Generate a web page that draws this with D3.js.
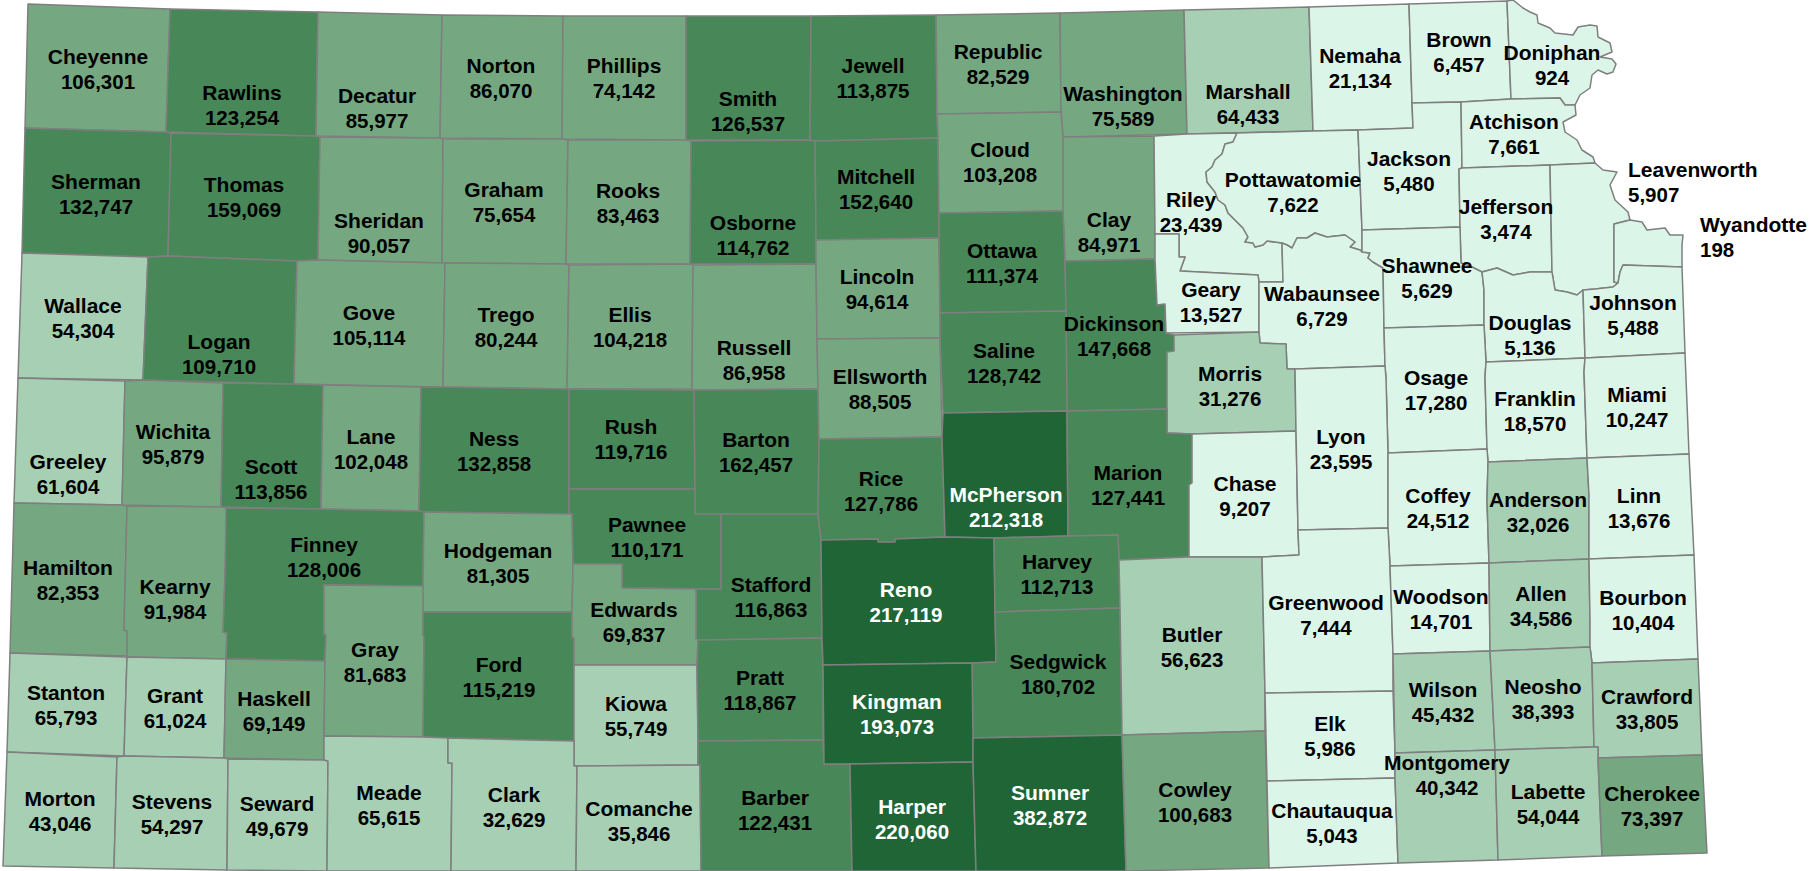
<!DOCTYPE html>
<html>
<head>
<meta charset="utf-8">
<script src="https://cdn.jsdelivr.net/npm/d3@7"></script>
<style>
  body { margin: 0; background: #fff; }
  svg { display: block; }
  .county { stroke: #7f7f7f; stroke-width: 1.5; stroke-linejoin: round; }
  .label { font-family: "Liberation Sans", Arial, sans-serif; font-weight: bold; }
  .label .name { font-size: 21px; }
  .label .value { font-size: 20.5px; }
</style>
</head>
<body>
<svg id="vis" width="1810" height="871"></svg>
<script>
const countyNames = [
  "Cheyenne","Rawlins","Decatur","Norton","Phillips","Smith","Jewell","Republic","Washington","Marshall","Nemaha","Brown","Doniphan",
  "Sherman","Thomas","Sheridan","Graham","Rooks","Osborne","Mitchell","Cloud","Clay","Riley","Pottawatomie","Jackson","Atchison","Jefferson","Leavenworth","Wyandotte",
  "Wallace","Logan","Gove","Trego","Ellis","Russell","Lincoln","Ottawa","Dickinson","Geary","Wabaunsee","Shawnee","Douglas","Johnson",
  "Greeley","Wichita","Scott","Lane","Ness","Rush","Barton","Ellsworth","Saline","Morris","Osage","Franklin","Miami",
  "Hamilton","Kearny","Finney","Hodgeman","Pawnee","Stafford","Rice","McPherson","Marion","Chase","Lyon","Coffey","Anderson","Linn",
  "Stanton","Grant","Haskell","Gray","Ford","Edwards","Kiowa","Pratt","Reno","Harvey","Sedgwick","Butler","Greenwood","Woodson","Allen","Bourbon",
  "Morton","Stevens","Seward","Meade","Clark","Comanche","Barber","Kingman","Harper","Sumner","Cowley","Elk","Chautauqua","Wilson","Neosho","Crawford","Montgomery","Labette","Cherokee"
];

const countyValues = [
  106301,123254,85977,86070,74142,126537,113875,82529,75589,64433,21134,6457,924,
  132747,159069,90057,75654,83463,114762,152640,103208,84971,23439,7622,5480,7661,3474,5907,198,
  54304,109710,105114,80244,104218,86958,94614,111374,147668,13527,6729,5629,5136,5488,
  61604,95879,113856,102048,132858,119716,162457,88505,128742,31276,17280,18570,10247,
  82353,91984,128006,81305,110171,116863,127786,212318,127441,9207,23595,24512,32026,13676,
  65793,61024,69149,81683,115219,69837,55749,118867,217119,112713,180702,56623,7444,14701,34586,10404,
  43046,54297,49679,65615,32629,35846,122431,193073,220060,382872,100683,5986,5043,45432,38393,33805,40342,54044,73397
];

const classBreaks = [30000, 68000, 108000, 190000];
const classColors = ["#dcf5e9", "#a7cfb4", "#75a880", "#488858", "#206535"];

// county outlines, in map units
const outlines = {
  Cheyenne: [[28,4],[170,9],[166,132],[25,128]],
  Rawlins: [[170,9],[318,12],[316,136],[166,132]],
  Decatur: [[318,12],[442,15],[440,138],[316,136]],
  Norton: [[442,15],[563,16],[562,139],[440,138]],
  Phillips: [[563,16],[686,16],[686,140],[562,139]],
  Smith: [[686,16],[811,16],[810,140],[686,140]],
  Jewell: [[811,16],[936,15],[937,114],[938,138],[815,141],[810,140]],
  Republic: [[936,15],[1060,13],[1061,112],[937,114]],
  Washington: [[1060,13],[1184,10],[1187,134],[1063,137],[1061,112]],
  Marshall: [[1184,10],[1309,7],[1313,131],[1187,134]],
  Nemaha: [[1309,7],[1409,4],[1412,103],[1413,128],[1358,130],[1313,131]],
  Brown: [[1409,4],[1507,1],[1511,99],[1461,102],[1412,103]],
  Doniphan: [[1507,1],[1513,0],[1523,8],[1530,12],[1537,15],[1538,23],[1550,28],[1555,33],[1573,35],[1578,27],[1590,25],[1597,26],[1598,37],[1610,43],[1612,52],[1600,57],[1612,59],[1616,64],[1613,72],[1607,74],[1598,70],[1592,75],[1590,88],[1580,95],[1575,105],[1565,105],[1560,98],[1511,99]],

  Sherman: [[25,128],[166,132],[171,133],[168,256],[148,257],[22,253]],
  Thomas: [[171,133],[316,136],[320,137],[318,260],[297,261],[168,256]],
  Sheridan: [[320,137],[440,138],[443,139],[442,263],[318,260]],
  Graham: [[443,139],[562,139],[568,140],[566,264],[442,263]],
  Rooks: [[568,140],[686,140],[691,141],[690,264],[566,264]],
  Osborne: [[691,141],[810,140],[815,141],[816,240],[816,264],[690,264]],
  Mitchell: [[815,141],[938,138],[939,213],[939,238],[816,240]],
  Cloud: [[937,114],[1061,112],[1063,137],[1063,211],[939,213],[938,138]],
  Clay: [[1063,137],[1154,136],[1155,234],[1155,259],[1065,261],[1063,211]],
  Riley: [[1154,136],[1187,134],[1237,133],[1233,142],[1225,144],[1222,154],[1215,160],[1212,167],[1206,172],[1207,182],[1215,192],[1218,200],[1225,205],[1228,213],[1237,222],[1243,228],[1248,237],[1245,242],[1253,243],[1255,247],[1263,245],[1267,241],[1275,242],[1282,243],[1283,282],[1259,282],[1258,275],[1180,271],[1185,257],[1179,257],[1179,234],[1155,234]],
  Pottawatomie: [[1237,133],[1313,131],[1358,130],[1362,230],[1362,252],[1360,250],[1350,247],[1355,242],[1345,235],[1327,237],[1315,233],[1307,238],[1297,238],[1292,248],[1287,245],[1282,243],[1275,242],[1267,241],[1263,245],[1255,247],[1253,243],[1245,242],[1248,237],[1243,228],[1237,222],[1228,213],[1225,205],[1218,200],[1215,192],[1207,182],[1206,172],[1212,167],[1215,160],[1222,154],[1225,144],[1233,142]],
  Jackson: [[1358,130],[1413,128],[1412,103],[1461,102],[1462,168],[1459,169],[1460,227],[1362,230]],
  Atchison: [[1461,102],[1511,99],[1560,98],[1565,105],[1575,105],[1576,115],[1563,122],[1565,132],[1577,140],[1582,150],[1593,157],[1595,163],[1550,165],[1462,168]],
  Jefferson: [[1459,169],[1462,168],[1550,165],[1552,272],[1530,272],[1513,275],[1497,268],[1482,272],[1472,267],[1461,263],[1460,227]],
  Leavenworth: [[1550,165],[1595,163],[1603,170],[1617,172],[1610,185],[1615,200],[1628,212],[1630,220],[1614,224],[1614,282],[1618,283],[1613,287],[1595,289],[1583,290],[1577,295],[1567,292],[1555,290],[1552,272]],
  Wyandotte: [[1614,224],[1630,220],[1642,222],[1647,230],[1665,228],[1670,235],[1683,235],[1682,245],[1682,267],[1623,265],[1620,272],[1618,283],[1614,282]],

  Wallace: [[22,253],[148,257],[143,380],[18,378]],
  Logan: [[148,257],[168,256],[297,261],[294,384],[143,380]],
  Gove: [[297,261],[318,260],[445,263],[443,387],[294,384]],
  Trego: [[445,263],[566,264],[569,265],[567,389],[443,387]],
  Ellis: [[569,265],[690,264],[693,265],[692,389],[567,389]],
  Russell: [[693,265],[816,264],[817,339],[818,389],[694,390],[692,389]],
  Lincoln: [[816,240],[939,238],[940,313],[940,338],[817,339],[816,264]],
  Ottawa: [[939,213],[1063,211],[1065,261],[1066,311],[940,313],[939,238]],
  Dickinson: [[1065,261],[1155,259],[1157,305],[1165,304],[1166,333],[1174,335],[1174,351],[1167,352],[1167,409],[1067,411],[1066,311]],
  Geary: [[1155,234],[1179,234],[1179,257],[1185,257],[1180,271],[1258,275],[1259,282],[1259,332],[1166,333],[1165,304],[1157,305],[1155,259]],
  Wabaunsee: [[1282,243],[1287,245],[1292,248],[1297,238],[1307,238],[1315,233],[1327,237],[1345,235],[1355,242],[1350,247],[1360,250],[1362,252],[1370,253],[1368,258],[1373,262],[1383,268],[1384,328],[1385,366],[1295,369],[1287,369],[1286,344],[1260,343],[1259,332],[1259,282],[1283,282]],
  Shawnee: [[1362,230],[1460,227],[1461,263],[1472,267],[1482,272],[1484,290],[1484,325],[1384,328],[1383,268],[1373,262],[1368,258],[1370,253],[1362,252]],
  Douglas: [[1482,272],[1497,268],[1513,275],[1530,272],[1552,272],[1555,290],[1567,292],[1577,295],[1583,290],[1585,358],[1486,362],[1484,325],[1484,290]],
  Johnson: [[1583,290],[1595,289],[1613,287],[1618,283],[1620,272],[1623,265],[1682,267],[1685,353],[1585,358]],

  Greeley: [[18,378],[125,381],[122,505],[14,503]],
  Wichita: [[125,381],[143,380],[223,383],[221,507],[122,505]],
  Scott: [[223,383],[294,384],[323,385],[321,509],[221,507]],
  Lane: [[323,385],[421,387],[419,511],[321,509]],
  Ness: [[421,387],[443,387],[567,389],[569,389],[569,489],[569,513],[572,514],[424,512],[419,511]],
  Rush: [[569,389],[694,390],[695,489],[569,489]],
  Barton: [[694,390],[818,389],[819,439],[818,514],[721,514],[695,514],[695,489]],
  Ellsworth: [[817,339],[940,338],[942,437],[819,439],[818,389]],
  Saline: [[940,313],[1066,311],[1067,411],[943,413],[940,338]],
  Morris: [[1174,335],[1259,332],[1260,343],[1286,344],[1287,369],[1295,369],[1296,431],[1192,434],[1167,433],[1167,352],[1174,351]],
  Osage: [[1384,328],[1484,325],[1486,362],[1485,377],[1487,449],[1388,453],[1386,378],[1385,366]],
  Franklin: [[1486,362],[1585,358],[1584,372],[1587,458],[1488,462],[1487,449],[1485,377]],
  Miami: [[1585,358],[1685,353],[1689,454],[1587,458],[1584,372]],

  Hamilton: [[14,503],[122,505],[127,506],[124,630],[127,631],[127,656],[10,653]],
  Kearny: [[127,506],[221,507],[227,508],[225,575],[223,632],[227,633],[226,659],[127,657],[127,631],[124,630]],
  Finney: [[226,508],[321,509],[419,511],[424,512],[423,586],[324,585],[324,634],[326,635],[325,661],[226,659],[227,633],[223,632],[225,575]],
  Hodgeman: [[424,512],[572,514],[573,564],[572,612],[423,612],[423,587]],
  Pawnee: [[569,489],[695,489],[695,514],[721,514],[721,589],[622,588],[622,564],[573,564],[572,514],[569,513]],
  Stafford: [[721,514],[818,514],[821,540],[822,638],[698,640],[696,639],[696,589],[721,589]],
  Rice: [[819,439],[942,437],[943,470],[945,537],[895,539],[895,542],[878,542],[878,539],[821,540],[818,514]],
  McPherson: [[943,413],[1067,411],[1068,536],[994,538],[945,537],[942,437]],
  Marion: [[1067,411],[1167,409],[1167,433],[1192,434],[1192,483],[1189,485],[1189,557],[1119,560],[1118,535],[1068,536]],
  Chase: [[1192,434],[1296,431],[1298,530],[1299,555],[1262,557],[1189,557],[1189,485],[1192,483]],
  Lyon: [[1295,369],[1385,366],[1386,378],[1388,453],[1388,503],[1388,528],[1298,530],[1296,431]],
  Coffey: [[1388,453],[1487,449],[1488,462],[1487,500],[1489,563],[1390,566],[1388,528],[1388,503]],
  Anderson: [[1488,462],[1587,458],[1589,495],[1589,559],[1489,563],[1487,500]],
  Linn: [[1587,458],[1689,454],[1694,555],[1589,559],[1589,495]],

  Stanton: [[10,653],[127,657],[124,756],[7,752]],
  Grant: [[127,657],[226,659],[224,758],[124,756]],
  Haskell: [[226,659],[325,661],[324,736],[324,760],[224,758]],
  Gray: [[324,585],[423,586],[423,612],[423,635],[424,637],[423,737],[324,736],[325,661],[326,635],[324,634]],
  Ford: [[423,612],[572,612],[572,637],[574,638],[574,741],[448,738],[423,737],[424,637],[423,635]],
  Edwards: [[573,564],[622,564],[622,588],[696,589],[696,639],[698,640],[697,665],[574,665],[574,638],[572,637],[572,612]],
  Kiowa: [[574,665],[697,665],[698,741],[698,765],[577,766],[574,766],[574,741]],
  Pratt: [[698,640],[822,638],[823,665],[823,740],[698,741],[697,665]],
  Reno: [[821,540],[878,539],[878,542],[895,542],[895,539],[945,537],[994,538],[995,612],[996,662],[972,663],[823,665],[822,638]],
  Harvey: [[994,538],[1068,536],[1118,535],[1119,560],[1120,608],[995,612]],
  Sedgwick: [[995,612],[1120,608],[1122,735],[973,738],[972,663],[996,662]],
  Butler: [[1119,560],[1189,557],[1262,557],[1265,693],[1265,731],[1122,735],[1120,608]],
  Greenwood: [[1262,557],[1299,555],[1298,530],[1388,528],[1390,566],[1393,654],[1393,691],[1265,693]],
  Woodson: [[1390,566],[1489,563],[1490,651],[1393,654]],
  Allen: [[1489,563],[1589,559],[1590,622],[1590,647],[1490,651]],
  Bourbon: [[1589,559],[1694,555],[1698,659],[1592,663],[1590,647],[1590,622]],

  Morton: [[7,752],[117,757],[114,868],[3,866]],
  Stevens: [[117,757],[124,756],[224,758],[228,759],[227,870],[114,868]],
  Seward: [[228,759],[324,760],[328,761],[327,871],[227,870]],
  Meade: [[324,736],[423,737],[448,738],[448,763],[452,763],[451,871],[327,871],[328,761],[324,760]],
  Clark: [[448,738],[574,741],[574,766],[577,766],[576,871],[451,871],[452,763],[448,763]],
  Comanche: [[577,766],[698,765],[700,765],[701,871],[576,871]],
  Barber: [[698,741],[823,740],[824,764],[850,764],[852,871],[701,871],[700,765],[698,765]],
  Kingman: [[823,665],[972,663],[973,738],[973,762],[850,764],[824,764]],
  Harper: [[850,764],[973,762],[976,871],[852,871]],
  Sumner: [[973,738],[1122,735],[1126,871],[976,871],[973,762]],
  Cowley: [[1122,735],[1265,731],[1269,868],[1126,871]],
  Elk: [[1265,693],[1393,691],[1395,753],[1395,778],[1267,781]],
  Chautauqua: [[1267,781],[1395,778],[1398,863],[1269,868]],
  Wilson: [[1393,654],[1490,651],[1495,750],[1395,753]],
  Neosho: [[1490,651],[1590,647],[1592,663],[1594,747],[1495,750]],
  Crawford: [[1592,663],[1698,659],[1702,755],[1598,758],[1598,747],[1594,747]],
  Montgomery: [[1395,753],[1495,750],[1498,860],[1398,863],[1395,778]],
  Labette: [[1495,750],[1594,747],[1598,747],[1598,758],[1602,856],[1498,860]],
  Cherokee: [[1598,758],[1702,755],[1707,853],[1602,856]]
};

// name baseline of each label, value line sits below it
const labelSpots = {
  Cheyenne:[98,64],Rawlins:[242,100],Decatur:[377,103],Norton:[501,73],Phillips:[624,73],Smith:[748,106],Jewell:[873,73],Republic:[998,59],
  Washington:[1123,101],Marshall:[1248,99],Nemaha:[1360,63],Brown:[1459,47],Doniphan:[1552,60],
  Sherman:[96,189],Thomas:[244,192],Sheridan:[379,228],Graham:[504,197],Rooks:[628,198],Osborne:[753,230],Mitchell:[876,184],Cloud:[1000,157],
  Clay:[1109,227],Riley:[1191,207],Pottawatomie:[1293,187],Jackson:[1409,166],Atchison:[1514,129],Jefferson:[1506,214],Leavenworth:[1628,177],Wyandotte:[1700,232],
  Wallace:[83,313],Logan:[219,349],Gove:[369,320],Trego:[506,322],Ellis:[630,322],Russell:[754,355],Lincoln:[877,284],Ottawa:[1002,258],
  Dickinson:[1114,331],Geary:[1211,297],Wabaunsee:[1322,301],Shawnee:[1427,273],Douglas:[1530,330],Johnson:[1633,310],
  Greeley:[68,469],Wichita:[173,439],Scott:[271,474],Lane:[371,444],Ness:[494,446],Rush:[631,434],Barton:[756,447],Ellsworth:[880,384],Saline:[1004,358],
  Morris:[1230,381],Osage:[1436,385],Franklin:[1535,406],Miami:[1637,402],
  Hamilton:[68,575],Kearny:[175,594],Finney:[324,552],Hodgeman:[498,558],Pawnee:[647,532],Stafford:[771,592],Rice:[881,486],McPherson:[1006,502],Marion:[1128,480],
  Chase:[1245,491],Lyon:[1341,444],Coffey:[1438,503],Anderson:[1538,507],Linn:[1639,503],
  Stanton:[66,700],Grant:[175,703],Haskell:[274,706],Gray:[375,657],Ford:[499,672],Edwards:[634,617],Kiowa:[636,711],Pratt:[760,685],Reno:[906,597],Harvey:[1057,569],
  Sedgwick:[1058,669],Butler:[1192,642],Greenwood:[1326,610],Woodson:[1441,604],Allen:[1541,601],Bourbon:[1643,605],
  Morton:[60,806],Stevens:[172,809],Seward:[277,811],Meade:[389,800],Clark:[514,802],Comanche:[639,816],Barber:[775,805],Kingman:[897,709],Harper:[912,814],
  Sumner:[1050,800],Cowley:[1195,797],Elk:[1330,731],Chautauqua:[1332,818],Wilson:[1443,697],Neosho:[1543,694],Crawford:[1647,704],Montgomery:[1447,770],Labette:[1548,799],Cherokee:[1652,801]
};

// these two sit outside the state, left aligned
const outsideLabels = ["Leavenworth", "Wyandotte"];

function drawMap() {
  const svg = d3.select("svg#vis");

  const color = d3.scaleThreshold()
    .domain(classBreaks)
    .range(classColors);
  const format = d3.format(",");

  const counties = countyNames.map(function(name, i) {
    return {
      type: "Feature",
      properties: { name: name, value: countyValues[i] },
      geometry: { type: "Polygon", coordinates: [outlines[name].concat([outlines[name][0]])] }
    };
  });

  const projection = d3.geoIdentity();
  const path = d3.geoPath().projection(projection);

  svg.append("g").attr("id", "basemap")
    .selectAll("path.county")
    .data(counties)
    .enter()
    .append("path")
    .attr("class", "county")
    .attr("d", path)
    .attr("fill", d => color(d.properties.value));

  const labels = svg.append("g").attr("id", "labels")
    .selectAll("text.label")
    .data(counties)
    .enter()
    .append("text")
    .attr("class", "label")
    .attr("text-anchor", d => outsideLabels.includes(d.properties.name) ? "start" : "middle")
    .attr("fill", d => d.properties.value >= classBreaks[3] ? "#fff" : "#000");

  labels.append("tspan")
    .attr("class", "name")
    .attr("x", d => projection(labelSpots[d.properties.name])[0])
    .attr("y", d => projection(labelSpots[d.properties.name])[1])
    .text(d => d.properties.name);

  labels.append("tspan")
    .attr("class", "value")
    .attr("x", d => projection(labelSpots[d.properties.name])[0])
    .attr("y", d => projection(labelSpots[d.properties.name])[1] + 24.5)
    .text(d => format(d.properties.value));
}

drawMap();
</script>
</body>
</html>
